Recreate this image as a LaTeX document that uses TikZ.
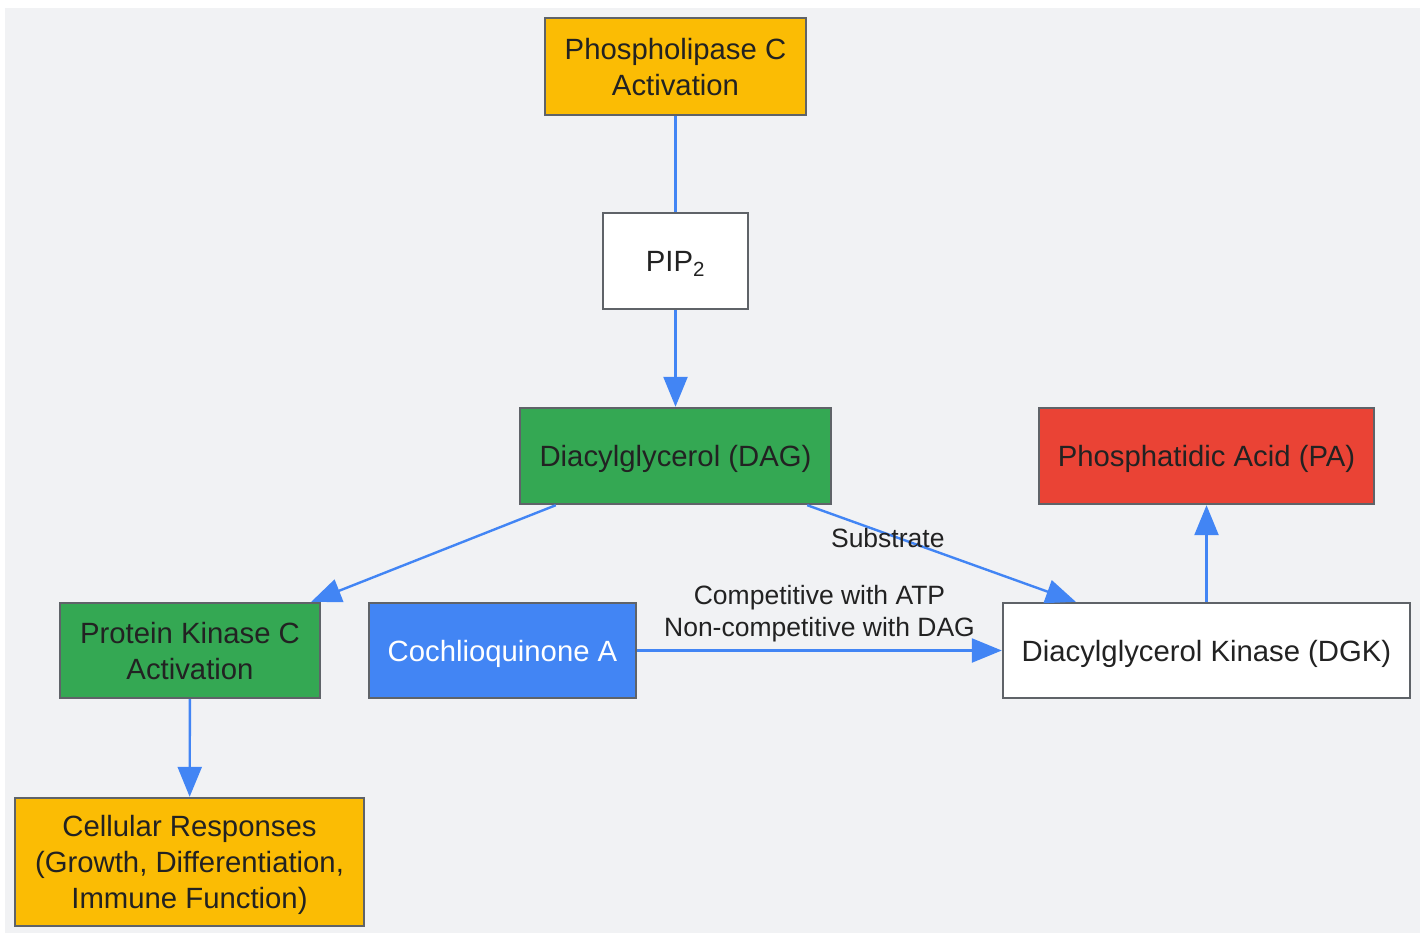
\documentclass[tikz,border=0pt]{standalone}
\usepackage{fontspec}
\setmainfont{Liberation Sans}
\usepackage{tikz}
\usetikzlibrary{arrows.meta}
\usetikzlibrary{positioning}

\definecolor{bgcol}{HTML}{F1F2F4}
\definecolor{boxline}{HTML}{5F6368}
\definecolor{txtcol}{HTML}{222222}
\definecolor{gyellow}{HTML}{FBBC04}
\definecolor{ggreen}{HTML}{34A853}
\definecolor{gred}{HTML}{EA4335}
\definecolor{gblue}{HTML}{4285F4}

\tikzset{
	box/.style={draw=boxline, line width=2.4pt, rectangle, align=center, text=txtcol,
		font=\fontsize{29.3}{36}\selectfont, inner sep=0pt, text depth=0pt},
	link/.style={draw=gblue, line width=2.4pt},
	arr/.style={link, -{Triangle[length=30pt,width=24pt]}},
	lbl/.style={text=txtcol, font=\fontsize{26.5}{32}\selectfont, align=center, inner sep=0pt}
}

\begin{document}
\begin{tikzpicture}[x=1pt,y=-1pt]

			% canvas
			\useasboundingbox (0,0) rectangle (1426,933);
			\fill[bgcol] (5,8) rectangle (1420,933);

			% nodes
			\node[box, fill=gyellow, minimum width=261pt, minimum height=97pt] (plc) at (675.5,66.5) {Phospholipase C\\Activation};
			\node[box, fill=white, minimum width=145pt, minimum height=96pt] (pip) at (675.5,261) {PIP\textsubscript{2}};
			\node[box, fill=ggreen, minimum width=311pt, minimum height=96pt] (dag) at (675.5,456) {Diacylglycerol (DAG)};
			\node[box, fill=gred, minimum width=335pt, minimum height=96pt] (pa) at (1206.5,456) {Phosphatidic Acid (PA)};
			\node[box, fill=ggreen, minimum width=260pt, minimum height=95pt] (pkc) at (190,650.5) {Protein Kinase C\\Activation};
			\node[box, fill=gblue, text=white, minimum width=267pt, minimum height=95pt] (cq) at (502.5,650.5) {Cochlioquinone A};
			\node[box, fill=white, minimum width=407pt, minimum height=95pt] (dgk) at (1206.5,650.5) {Diacylglycerol Kinase (DGK)};
			\node[box, fill=gyellow, minimum width=349pt, minimum height=128pt] (cell) at (189.5,862) {Cellular Responses\\(Growth, Differentiation,\\Immune Function)};

			% connectors
			\draw[link] (plc) -- (pip);
			\draw[arr] (pip) -- (dag);
			\draw[arr] ([xshift=37pt]dag.south west) -- ([xshift=-10pt]pkc.north east);
			\draw[arr] ([xshift=-25pt]dag.south east) -- node[lbl, pos=0.3, yshift=-4pt] {Substrate} ([xshift=74pt]dgk.north west);
			\draw[arr] (cq) -- node[lbl, above=7pt] {Competitive with ATP\\Non-competitive with DAG} (dgk);
			\draw[arr] (dgk) -- (pa);
			\draw[arr] (pkc) -- (cell);
		\end{tikzpicture}
\end{document}
